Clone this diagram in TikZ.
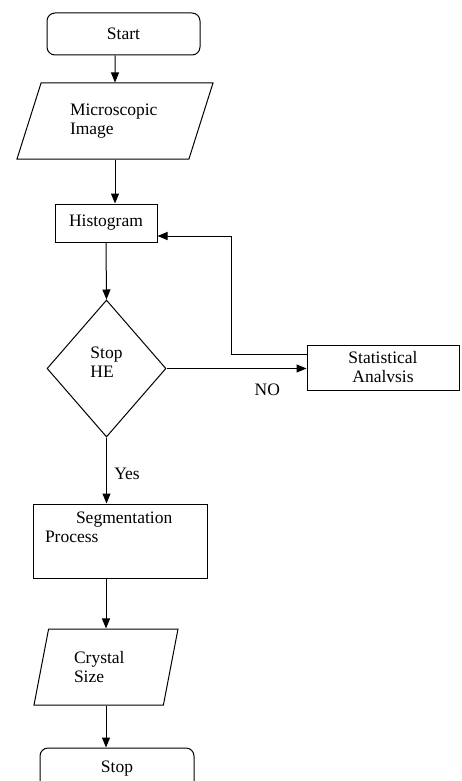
\documentclass[tikz,border=0pt]{standalone}
\usepackage{fontspec}
\setmainfont{Liberation Serif}
\usetikzlibrary{shapes.geometric,arrows.meta}
\tikzset{
	chart/.style={
		draw,
		line width=1pt,
		font=\fontsize{17.5}{19}\selectfont
	},
	terminal/.style={chart, rectangle, rounded corners=8pt, minimum width=153pt, minimum height=42pt},
	process/.style={chart, rectangle, inner sep=0pt},
	data/.style={chart, trapezium, trapezium stretches body, align=left, inner sep=0pt, minimum height=76pt},
	decision/.style={chart, diamond, align=left, inner sep=0pt},
	flow/.style={line width=1pt, -{Triangle[length=10pt,width=8pt]}},
}
\begin{document}
\begin{tikzpicture}[x=1pt,y=-1pt]
\useasboundingbox (0,0) rectangle (461,781);
\clip (0,0) rectangle (461,781);

\node[terminal] (start) at (123.5,34) {Start};
	\node[data, trapezium left angle=55, trapezium right angle=125, minimum width=196pt, text width=90pt] (micro) at (115,121) {Microscopic\\Image};
		\node[process, minimum width=102pt, minimum height=38pt] (histo) at (106,223) {Histogram};
			\node[decision, minimum width=119pt, minimum height=137pt, text depth=13pt] (stopHE) at (106.5,368.5) {Stop\\HE};
				\node[process, align=center, minimum width=152pt, minimum height=45pt] (stat) at (383,367.5) {Statistical\\Analvsis};
			\node[process, text width=150pt, align=left, minimum width=174pt, minimum height=74pt, text depth=46pt] (segm) at (120,541) {\hspace*{31pt}Segmentation\\Process};
		\node[data, trapezium left angle=65, trapezium right angle=115, minimum width=144pt, text width=64pt] (crystal) at (106,667) {Crystal\\Size};
	\node[terminal, minimum width=154pt] (stop) at (117,769) {Stop};

\draw[flow] (micro.center |- start.south) -- (micro.north);
\draw[flow] (micro.south) -- (micro.south |- histo.north);
\draw[flow] (histo.south) -- (stopHE.north);
\draw[flow] (stopHE.east) -- (stopHE.east -| stat.west)
	node[pos=0.72, below=12pt, chart, draw=none] (no) {NO};
\draw[flow] ([yshift=13.5pt]stat.west) -- ++(-75,0) |- ([yshift=-13pt]histo.east);
\draw[flow] (stopHE.south) -- (stopHE.south |- segm.north)
	node[pos=0.55, right=4pt, chart, draw=none] (yes) {Yes};
\draw[flow] (crystal.north |- segm.south) -- (crystal.north);
\draw[flow] (crystal.south) -- (crystal.south |- stop.north);
\end{tikzpicture}
\end{document}
